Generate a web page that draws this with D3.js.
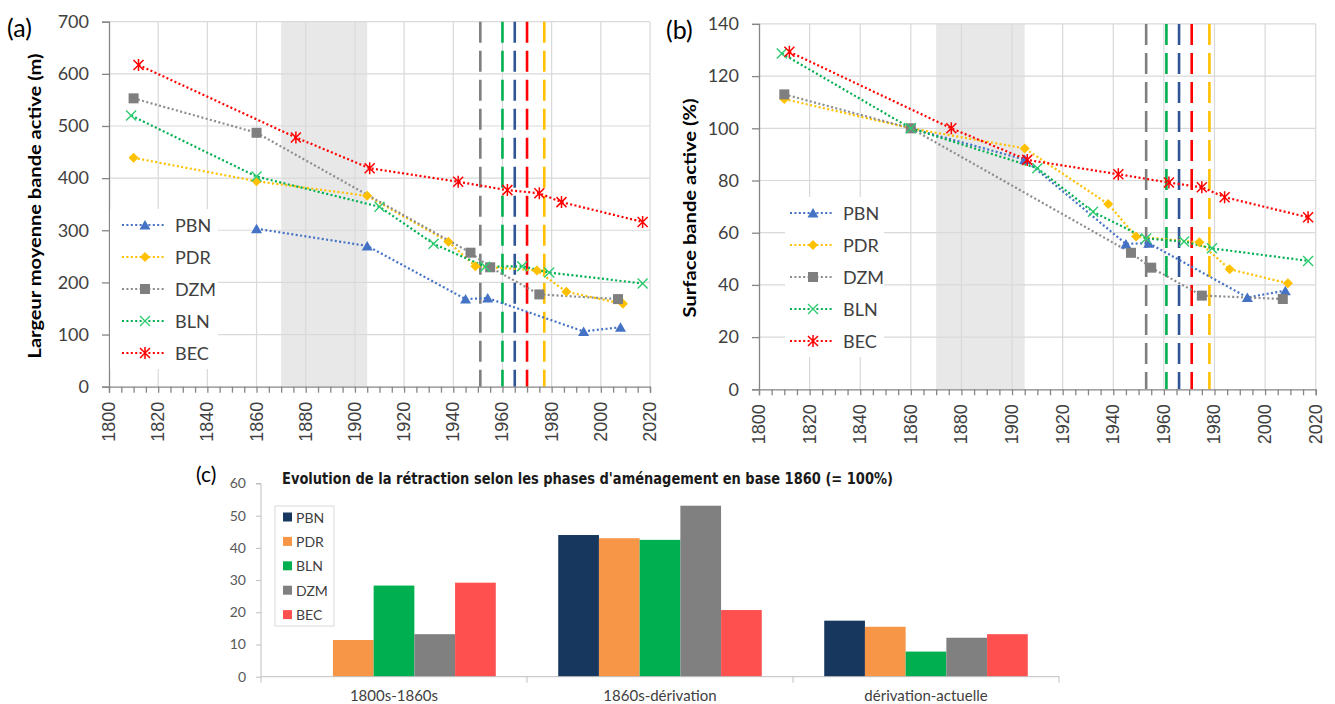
<!DOCTYPE html>
<html><head><meta charset="utf-8">
<script src="https://cdn.jsdelivr.net/npm/d3@7"></script>
<style>
body{margin:0;background:#fff;}
svg{display:block;font-family:Lato,"Open Sans",sans-serif;}
</style>
</head><body>
<svg id="chart" width="1335" height="704"></svg>
<script>
// ---------- DATA ----------
const seriesNames = ["PBN","PDR","DZM","BLN","BEC"];
const yearsPBN = [1860,1905,1945,1954,1993,2008];
const yearsPDR = [1810,1860,1905,1938,1949,1974,1986,2009];
const yearsDZM = [1810,1860,1947,1955,1975,2007];
const yearsBLN = [1809,1860,1910,1932,1953,1968,1979,2017];
const yearsBEC = [1812,1876,1906,1942,1962,1975,1984,2017];

// panel (a) : largeur moyenne bande active (m)
const widthPBN = [303,270,168,170,106,114];
const widthPDR = [439,394,366,278,231,223,182,159];
const widthDZM = [553,487,257,229,177,168];
const widthBLN = [520,403,345,274,230,231,219,198];
const widthBEC = [617,478,419,393,377,371,354,316];

// panel (b) : surface bande active (%)
const surfPBN = [100,88,55.7,56,35.2,37.8];
const surfPDR = [111.2,100,92.3,71,58.5,56.3,46,40.6];
const surfDZM = [113,100,52.3,46.6,35.9,34.6];
const surfBLN = [128.7,100,84.7,68,57.8,56.6,54,49.2];
const surfBEC = [129.3,100,87.9,82.4,79.2,77.4,73.6,65.9];

const shadedPeriod = [1870,1905];
const dashYearsA = [1951,1960,1965,1970,1977];
const dashYearsB = [1953,1961,1966,1971,1978];
const dashColors = ["#7f7f7f","#00b050","#2f5597","#ff0000","#ffc000"];

const yTicksA = [0,100,200,300,400,500,600,700];
const yTicksB = [0,20,40,60,80,100,120,140];
const xTicks = [1800,1820,1840,1860,1880,1900,1920,1940,1960,1980,2000,2020];

// panel (c)
const phases = ["1800s-1860s","1860s-dérivation","dérivation-actuelle"];
const barSeries = ["PBN","PDR","BLN","DZM","BEC"];
const barPBN = [null,44.0,17.4];
const barPDR = [11.4,43.0,15.5];
const barBLN = [28.3,42.5,7.8];
const barDZM = [13.2,53.1,12.1];
const barBEC = [29.2,20.7,13.2];
const yTicksC = [0,10,20,30,40,50,60];

// ---------- STYLE ----------
const lineColors = {PBN:"#4472c4",PDR:"#ffc000",DZM:"#7f7f7f",BLN:"#00b050",BEC:"#ff0000"};
const lineStroke = {PBN:"#4472c4",PDR:"#ffc000",DZM:"#8c8c8c",BLN:"#00b050",BEC:"#ff0000"};
const barColors = {PBN:"#17375e",PDR:"#f79646",BLN:"#00b050",DZM:"#808080",BEC:"#ff5050"};

const svg = d3.select("#chart");

function marker(g, name, cx, cy){
  const c = lineColors[name];
  if(name==="PBN"){
    g.append("path").attr("d",`M${cx},${cy-5}L${cx+5.5},${cy+4.5}L${cx-5.5},${cy+4.5}Z`).attr("fill",c);
  } else if(name==="PDR"){
    g.append("path").attr("d",`M${cx},${cy-5}L${cx+5},${cy}L${cx},${cy+5}L${cx-5},${cy}Z`).attr("fill",c);
  } else if(name==="DZM"){
    g.append("rect").attr("x",cx-5).attr("y",cy-5).attr("width",10).attr("height",10).attr("fill",c);
  } else if(name==="BLN"){
    g.append("path").attr("d",`M${cx-5},${cy-5}L${cx+5},${cy+5}M${cx-5},${cy+5}L${cx+5},${cy-5}`)
      .attr("stroke","#2ecc71").attr("stroke-width",1.4).attr("fill","none");
  } else {
    g.append("path").attr("d",`M${cx-5},${cy-5}L${cx+5},${cy+5}M${cx-5},${cy+5}L${cx+5},${cy-5}M${cx},${cy-6}L${cx},${cy+6}`)
      .attr("stroke",c).attr("stroke-width",1.5).attr("fill","none");
  }
}

function linePanel(cfg){
  const g = svg.append("g");
  const x = d3.scaleLinear().domain([1800,2020]).range([cfg.left,cfg.right]);
  const y = d3.scaleLinear().domain([0,cfg.yMax]).range([cfg.bottom,cfg.top]);
  // shaded period
  g.append("rect").attr("x",x(shadedPeriod[0])).attr("y",cfg.top)
    .attr("width",x(shadedPeriod[1])-x(shadedPeriod[0])).attr("height",cfg.bottom-cfg.top)
    .attr("fill","#e8e8e8");
  // grid
  g.selectAll(null).data(cfg.yTicks.filter(d=>d>0)).join("line")
    .attr("x1",cfg.left).attr("x2",cfg.right).attr("y1",d=>y(d)).attr("y2",d=>y(d))
    .attr("stroke","#d9d9d9").attr("stroke-width",1.2);
  g.selectAll(null).data(xTicks.filter(d=>d>1800)).join("line")
    .attr("x1",d=>x(d)).attr("x2",d=>x(d)).attr("y1",cfg.top).attr("y2",cfg.bottom)
    .attr("stroke","#d9d9d9").attr("stroke-width",1.2);
  // dashed lines
  g.selectAll(null).data(cfg.dashYears).join("line")
    .attr("x1",d=>x(d)).attr("x2",d=>x(d)).attr("y1",cfg.top).attr("y2",cfg.bottom)
    .attr("stroke",(d,i)=>dashColors[i]).attr("stroke-width",2.6).attr("stroke-dasharray","21,8");
  // series
  const line = d3.line().x(d=>x(d[0])).y(d=>y(d[1]));
  cfg.series.forEach(s=>{
    const pts = s.years.map((yr,i)=>[yr,s.vals[i]]);
    g.append("path").datum(pts).attr("d",line).attr("fill","none")
      .attr("stroke",lineStroke[s.name]).attr("stroke-width",2.2).attr("stroke-dasharray","2,2.4");
  });
  cfg.series.forEach(s=>{
    s.years.forEach((yr,i)=>marker(g,s.name,x(yr),y(s.vals[i])));
  });
  // axes
  const ax = g.append("g").attr("transform",`translate(${cfg.left},0)`)
    .call(d3.axisLeft(y).tickValues(cfg.yTicks).tickSize(7).tickPadding(13).tickFormat(d3.format("d")));
  ax.select(".domain").attr("stroke","#868686").attr("stroke-width",1.3);
  ax.selectAll(".tick line").attr("stroke","#868686").attr("stroke-width",1.3);
  ax.selectAll("text").attr("font-size",18).attr("fill","#404040").attr("font-family","Lato");
  const minor = d3.range(1800,2021,5);
  const bx = g.append("g").attr("transform",`translate(0,${cfg.bottom})`);
  bx.call(d3.axisBottom(x).tickValues(minor).tickSize(6).tickFormat(""));
  bx.select(".domain").attr("stroke","#868686").attr("stroke-width",1.3);
  bx.selectAll(".tick line").attr("stroke","#868686").attr("stroke-width",1.3);
  bx.selectAll(null).data(xTicks).join("text")
    .attr("transform",d=>`translate(${x(d)},15) rotate(-90)`)
    .attr("text-anchor","end").attr("dominant-baseline","central")
    .attr("font-size",18).attr("fill","#404040").text(d=>d);
  // y title
  g.append("text").attr("transform",`translate(${cfg.titleX},${cfg.titleY}) rotate(-90)`)
    .attr("text-anchor","middle").attr("dominant-baseline","central")
    .attr("font-weight","bold").attr("font-size",16.5).attr("fill","#000")
    .attr("textLength",cfg.titleLen).attr("lengthAdjust","spacingAndGlyphs")
    .text(cfg.yTitle);
  // panel label
  g.append("text").attr("x",cfg.labelX).attr("y",cfg.labelY).attr("font-size",25)
    .attr("fill","#000").text(cfg.label);
  // legend
  const L = cfg.legend;
  g.append("rect").attr("x",L.x).attr("y",L.y).attr("width",L.w).attr("height",L.h).attr("fill","#fff");
  seriesNames.forEach((n,i)=>{
    const yy = L.y + 16 + i*32;
    g.append("line").attr("x1",L.lx).attr("x2",L.lx+44).attr("y1",yy).attr("y2",yy)
      .attr("stroke",lineStroke[n]).attr("stroke-width",2.2).attr("stroke-dasharray","2,2.4");
    marker(g,n,L.lx+23,yy);
    g.append("text").attr("x",L.lx+53).attr("y",yy).attr("dominant-baseline","central")
      .attr("font-size",18).attr("fill","#404040").text(n);
  });
}

linePanel({
  left:109,right:650,top:21.7,bottom:386.7,yMax:700,yTicks:yTicksA,dashYears:dashYearsA,
  series:[
    {name:"PBN",years:yearsPBN,vals:widthPBN},
    {name:"PDR",years:yearsPDR,vals:widthPDR},
    {name:"DZM",years:yearsDZM,vals:widthDZM},
    {name:"BLN",years:yearsBLN,vals:widthBLN},
    {name:"BEC",years:yearsBEC,vals:widthBEC}],
  yTitle:"Largeur moyenne bande active (m)",titleX:35,titleY:206,titleLen:305,
  label:"(a)",labelX:7,labelY:37,
  legend:{x:110,y:209,w:108,h:160,lx:122}
});
linePanel({
  left:759,right:1315.7,top:23.9,bottom:389.3,yMax:140,yTicks:yTicksB,dashYears:dashYearsB,
  series:[
    {name:"PBN",years:yearsPBN,vals:surfPBN},
    {name:"PDR",years:yearsPDR,vals:surfPDR},
    {name:"DZM",years:yearsDZM,vals:surfDZM},
    {name:"BLN",years:yearsBLN,vals:surfBLN},
    {name:"BEC",years:yearsBEC,vals:surfBEC}],
  yTitle:"Surface bande active (%)",titleX:690,titleY:208,titleLen:219,
  label:"(b)",labelX:666,labelY:39,
  legend:{x:785,y:197,w:99,h:160,lx:790}
});

// ---------- PANEL (c) ----------
(function(){
  const g = svg.append("g");
  const left=261,right=1059,top=483.5,bottom=676.7;
  const x0 = d3.scaleBand().domain(phases).range([left,right]).padding(0);
  const x1 = d3.scaleBand().domain(barSeries).range([0,x0.bandwidth()]).paddingInner(0).paddingOuter(0.767);
  const y = d3.scaleLinear().domain([0,60]).range([bottom,top]);
  const vals = {PBN:barPBN,PDR:barPDR,BLN:barBLN,DZM:barDZM,BEC:barBEC};
  phases.forEach((p,pi)=>{
    barSeries.forEach(s=>{
      const v = vals[s][pi];
      if(v==null) return;
      g.append("rect").attr("x",x0(p)+x1(s)).attr("y",y(v)).attr("width",x1.bandwidth())
        .attr("height",y(0)-y(v)).attr("fill",barColors[s]);
    });
  });
  const ay = g.append("g").attr("transform",`translate(${left},0)`)
    .call(d3.axisLeft(y).tickValues(yTicksC).tickSize(5).tickPadding(10));
  ay.select(".domain").attr("stroke","#bfbfbf").attr("d",`M-5,${top}H0V${bottom+6}`);
  ay.selectAll(".tick line").attr("stroke","#bfbfbf");
  ay.selectAll("text").attr("font-size",14).attr("fill","#595959").attr("font-family","Lato");
  // x axis
  g.append("line").attr("x1",left).attr("x2",right).attr("y1",bottom).attr("y2",bottom).attr("stroke","#bfbfbf");
  const bounds = phases.map(p=>x0(p)).concat([right]);
  g.selectAll(null).data(bounds.slice(1)).join("line")
    .attr("x1",d=>d).attr("x2",d=>d).attr("y1",bottom).attr("y2",bottom+6).attr("stroke","#bfbfbf");
  g.selectAll(null).data(phases).join("text")
    .attr("x",d=>x0(d)+x0.bandwidth()/2).attr("y",701).attr("text-anchor","middle")
    .attr("font-size",15).attr("fill","#404040").text(d=>d);
  // title
  g.append("text").attr("x",282).attr("y",484)
    .attr("font-family","'Liberation Sans Narrow','DejaVu Sans Condensed',Roboto,sans-serif")
    .attr("font-weight","bold").attr("font-size",16.5).attr("fill","#1a1a1a")
    .attr("textLength",611).attr("lengthAdjust","spacingAndGlyphs")
    .text("Evolution de la rétraction selon les phases d'aménagement en base 1860 (= 100%)");
  g.append("text").attr("x",196).attr("y",482).attr("font-size",21).attr("fill","#000").text("(c)");
  // legend
  g.append("rect").attr("x",275).attr("y",506).attr("width",59).attr("height",120)
    .attr("fill","#fff").attr("stroke","#d9d9d9");
  barSeries.forEach((s,i)=>{
    const yy = 517 + i*24.4;
    g.append("rect").attr("x",283).attr("y",yy-4.5).attr("width",9).attr("height",9).attr("fill",barColors[s]);
    g.append("text").attr("x",296).attr("y",yy).attr("dominant-baseline","central")
      .attr("font-size",14).attr("fill","#404040").text(s);
  });
})();
</script>
</body></html>
